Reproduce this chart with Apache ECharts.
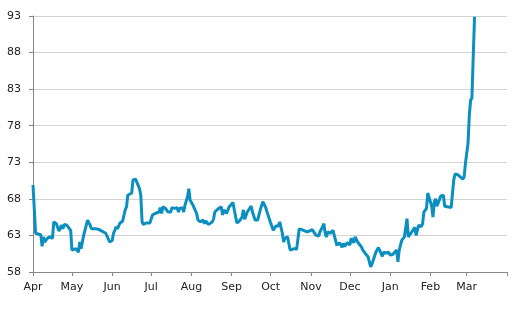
<!DOCTYPE html>
<html>
<head>
<meta charset="utf-8">
<script src="https://cdn.jsdelivr.net/npm/echarts@6/dist/echarts.min.js"></script>
<style>
  html, body { margin: 0; padding: 0; background: #fff; }
  #chart { width: 522px; height: 309px; }
</style>
</head>
<body>
<div id="chart"></div>
<script>
// daily readings, Apr -> Mar
const dates = [
  '2013-04-01','2013-04-02','2013-04-03','2013-04-04','2013-04-07','2013-04-08','2013-04-09','2013-04-10','2013-04-12','2013-04-14',
  '2013-04-16','2013-04-17','2013-04-19','2013-04-21','2013-04-23','2013-04-24','2013-04-25','2013-04-27','2013-04-28','2013-04-30',
  '2013-05-01','2013-05-02','2013-05-04','2013-05-06','2013-05-07','2013-05-08','2013-05-10','2013-05-11','2013-05-13','2013-05-15',
  '2013-05-16','2013-05-19','2013-05-20','2013-05-22','2013-05-23','2013-05-25','2013-05-27','2013-05-28','2013-05-30',
  '2013-06-01','2013-06-02','2013-06-03','2013-06-04','2013-06-05','2013-06-07','2013-06-09','2013-06-10','2013-06-11','2013-06-12',
  '2013-06-13','2013-06-14','2013-06-16','2013-06-17','2013-06-19','2013-06-20','2013-06-22','2013-06-23','2013-06-24','2013-06-25',
  '2013-06-27','2013-06-30',
  '2013-07-02','2013-07-04','2013-07-07','2013-07-08','2013-07-09','2013-07-10','2013-07-12','2013-07-14','2013-07-16','2013-07-17',
  '2013-07-19','2013-07-21','2013-07-22','2013-07-23','2013-07-25','2013-07-26','2013-07-27','2013-07-29','2013-07-30','2013-07-31',
  '2013-08-02','2013-08-03','2013-08-05','2013-08-06','2013-08-08','2013-08-10','2013-08-11','2013-08-12','2013-08-14','2013-08-15',
  '2013-08-17','2013-08-18','2013-08-19','2013-08-20','2013-08-22','2013-08-24','2013-08-25','2013-08-26','2013-08-28','2013-08-30',
  '2013-09-02','2013-09-03','2013-09-05','2013-09-07','2013-09-09','2013-09-10','2013-09-11','2013-09-13','2013-09-14','2013-09-16',
  '2013-09-17','2013-09-19','2013-09-21','2013-09-23','2013-09-25','2013-09-27','2013-09-29',
  '2013-10-01','2013-10-03','2013-10-05','2013-10-07','2013-10-08','2013-10-10','2013-10-11','2013-10-12','2013-10-14','2013-10-16',
  '2013-10-17','2013-10-19','2013-10-21','2013-10-23','2013-10-25','2013-10-26','2013-10-29','2013-10-31',
  '2013-11-02','2013-11-03','2013-11-05','2013-11-07','2013-11-08','2013-11-10','2013-11-11','2013-11-12','2013-11-13','2013-11-14',
  '2013-11-16','2013-11-17','2013-11-18','2013-11-19','2013-11-21','2013-11-22','2013-11-23','2013-11-25','2013-11-26','2013-11-27',
  '2013-11-29','2013-11-30',
  '2013-12-01','2013-12-02','2013-12-04','2013-12-05','2013-12-07','2013-12-08','2013-12-10','2013-12-11','2013-12-13','2013-12-15',
  '2013-12-17','2013-12-18','2013-12-19','2013-12-21','2013-12-23','2013-12-24','2013-12-26','2013-12-27','2013-12-28','2013-12-29',
  '2013-12-31',
  '2014-01-01','2014-01-02','2014-01-03','2014-01-06','2014-01-07','2014-01-08','2014-01-10','2014-01-11','2014-01-12','2014-01-14',
  '2014-01-15','2014-01-17','2014-01-18','2014-01-20','2014-01-21','2014-01-23','2014-01-25','2014-01-26','2014-01-27','2014-01-29',
  '2014-01-30',
  '2014-02-01','2014-02-02','2014-02-03','2014-02-04','2014-02-05','2014-02-06','2014-02-08','2014-02-09','2014-02-11','2014-02-12',
  '2014-02-15','2014-02-17','2014-02-19','2014-02-20','2014-02-22','2014-02-24','2014-02-26','2014-02-27','2014-02-28',
  '2014-03-02','2014-03-03','2014-03-04','2014-03-05','2014-03-06','2014-03-07'
];

const values = [
  69.9, 69.9, 63.3, 63.1, 63.1, 61.5, 62.8, 62.1, 62.6, 62.8,
  62.6, 64.85, 64.6, 63.6, 64.4, 63.9, 64.5, 64.4, 64.2, 63.7,
  61.0, 61.1, 61.2, 60.7, 62.1, 61.2, 63.0, 63.7, 65.1, 64.4,
  63.9, 63.9, 63.7, 63.8, 63.6, 63.5, 63.3, 63.5, 62.1,
  62.3, 63.3, 63.7, 64.2, 63.9, 64.7, 64.95, 65.1, 66.5, 66.9,
  68.5, 68.7, 68.8, 70.6, 70.7, 70.6, 69.4, 68.5, 64.85, 64.5,
  64.7, 64.7,
  65.8, 66.0, 66.2, 66.8, 66.0, 66.9, 66.7, 66.2, 66.2, 66.8,
  66.7, 66.8, 66.2, 66.7, 66.8, 66.2, 67.1, 68.3, 69.4, 67.8,
  67.2, 67.0, 66.0, 65.1, 64.85, 65.1, 64.6, 65.0, 64.5, 64.7,
  64.85, 65.2, 66.2, 66.2, 66.7, 66.9, 65.8, 66.5, 66.0, 66.9,
  67.5, 66.5, 64.7, 65.0, 65.5, 66.5, 65.2, 66.2, 66.0, 67.0,
  66.2, 65.1, 65.1, 66.5, 67.6, 66.9, 65.8,
  64.7, 63.7, 64.3, 64.3, 64.85, 63.3, 62.1, 62.6, 62.8, 61.0,
  61.2, 61.2, 61.1, 63.9, 63.8, 63.7, 63.5, 63.6,
  63.8, 63.9, 63.0, 62.9, 63.5, 64.2, 64.6, 63.3, 62.8, 63.5,
  63.3, 63.5, 63.7, 63.0, 61.65, 61.4, 62.0, 61.4, 61.9, 61.5,
  62.0, 62.1,
  61.7, 62.6, 62.0, 62.8, 62.1, 61.9, 61.4, 61.0, 60.5, 60.1,
  58.7, 59.1, 59.6, 60.7, 61.35, 61.2, 60.15, 60.7, 60.9, 60.6,
  60.7,
  60.3, 60.2, 60.4, 61.0, 59.4, 61.0, 62.35, 62.6, 62.8, 65.3,
  62.8, 63.3, 63.5, 64.1, 63.0, 64.4, 64.2, 64.6, 66.2, 66.7,
  68.8,
  67.6, 67.0, 65.5, 67.6, 68.0, 67.0, 67.9, 68.4, 68.5, 67.0,
  66.9, 66.8, 70.6, 71.4, 71.3, 71.0, 70.7, 71.0, 72.85,
  75.6, 79.5, 81.5, 81.8, 87.5, 92.9
];

const monthLabels = ['Jan','Feb','Mar','Apr','May','Jun','Jul','Aug','Sep','Oct','Nov','Dec'];
const xStart = '2013-04-01';
const xEnd = '2014-04-01';

const DAY = 24 * 3600 * 1000;
const endTime = new Date(2014, 3, 1).getTime();

const chart = echarts.init(document.getElementById('chart'));

const option = {
  animation: false,
  backgroundColor: '#fff',
  grid: { left: 33, right: 15, top: 16, bottom: 37 },
  xAxis: {
    type: 'time',
    min: xStart,
    max: xEnd,
    splitNumber: 12,
    minInterval: 28 * DAY,
    maxInterval: 31 * DAY,
    splitLine: { show: false },
    axisLine: { lineStyle: { color: '#888', width: 1 } },
    axisTick: { show: true, length: 4, lineStyle: { color: '#888' } },
    axisLabel: {
      color: '#222',
      fontFamily: 'DejaVu Sans',
      fontSize: 11,
      margin: 10,
      hideOverlap: false,
      formatter: (val) => {
        if (val >= endTime - DAY) return '';
        return monthLabels[new Date(val).getMonth()];
      }
    }
  },
  yAxis: {
    type: 'value',
    min: 58,
    max: 93,
    interval: 5,
    axisLine: { show: true, lineStyle: { color: '#888', width: 1 } },
    axisTick: { show: true, length: 4, lineStyle: { color: '#888' } },
    splitLine: { lineStyle: { color: '#d4d4d4', width: 1 } },
    axisLabel: {
      color: '#222',
      fontFamily: 'DejaVu Sans',
      fontSize: 11,
      margin: 12
    }
  },
  series: [
    {
      type: 'line',
      data: dates.map((d, i) => [d, values[i]]),
      showSymbol: false,
      symbol: 'none',
      smooth: false,
      lineStyle: { color: '#0b8fc0', width: 3 },
      itemStyle: { color: '#0b8fc0' }
    }
  ]
};

chart.setOption(option);
</script>
</body>
</html>
